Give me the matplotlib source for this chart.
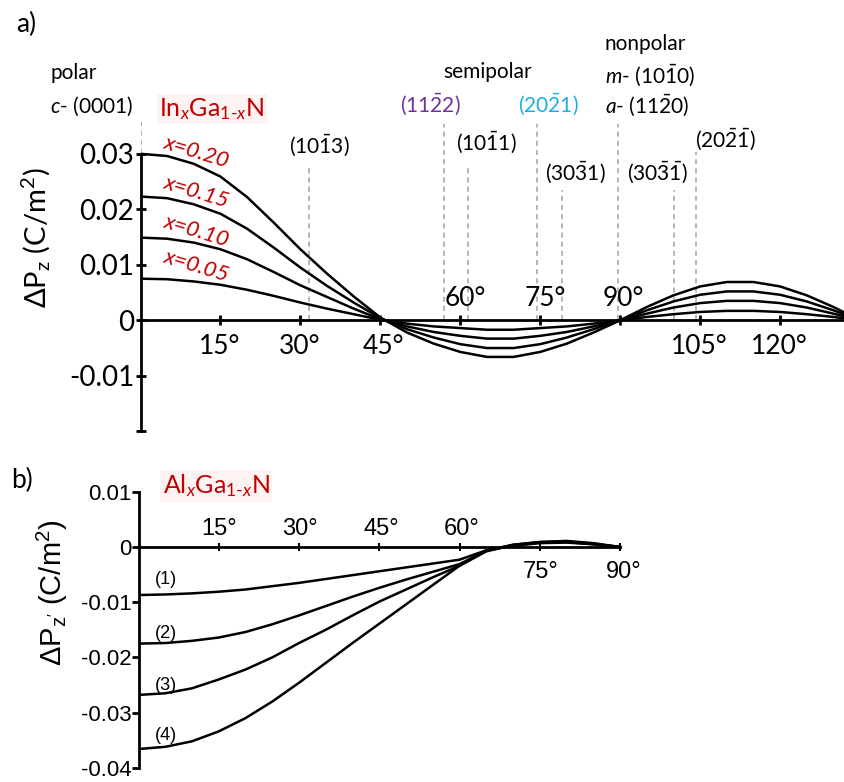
import numpy as np
import matplotlib
matplotlib.use("Agg")
import matplotlib.pyplot as plt

plt.rcParams['font.family'] = ['Lato', 'DejaVu Sans']
plt.rcParams['mathtext.fontset'] = 'custom'
plt.rcParams['mathtext.rm'] = 'Lato'
plt.rcParams['mathtext.it'] = 'Lato:italic'
plt.rcParams['mathtext.sf'] = 'Liberation Sans'

# ---- data: panel a, InGaN, angle in degrees (5 deg steps) ----
angle_a = [0, 5, 10, 15, 20, 25, 30, 35, 40, 45, 50, 55, 60, 65, 70, 75, 80, 85, 90,
           95, 100, 105, 110, 115, 120, 125, 130, 135]
ingan_x020 = [0.0300, 0.0296, 0.0282, 0.0259, 0.0222, 0.0176, 0.0128, 0.0084, 0.0043, 0.0005,
              -0.0022, -0.0042, -0.0057, -0.0066, -0.0066, -0.0057, -0.0042, -0.0022, 0.0000,
              0.0024, 0.0045, 0.0061, 0.0069, 0.0069, 0.0061, 0.0045, 0.0024, 0.0000]
ingan_x015 = [0.0223, 0.0220, 0.0209, 0.0192, 0.0165, 0.0131, 0.0095, 0.0062, 0.0032, 0.0004,
              -0.0016, -0.0031, -0.0043, -0.0050, -0.0050, -0.0043, -0.0031, -0.0016, 0.0000,
              0.0018, 0.0034, 0.0046, 0.0052, 0.0052, 0.0046, 0.0034, 0.0018, 0.0000]
ingan_x010 = [0.0149, 0.0147, 0.0140, 0.0128, 0.0110, 0.0087, 0.0063, 0.0042, 0.0021, 0.0002,
              -0.0011, -0.0021, -0.0028, -0.0033, -0.0033, -0.0028, -0.0021, -0.0011, 0.0000,
              0.0012, 0.0023, 0.0031, 0.0035, 0.0035, 0.0031, 0.0023, 0.0012, 0.0000]
ingan_x005 = [0.0075, 0.0074, 0.0070, 0.0064, 0.0055, 0.0044, 0.0032, 0.0021, 0.0011, 0.0001,
              -0.0006, -0.0011, -0.0014, -0.0017, -0.0017, -0.0014, -0.0011, -0.0006, 0.0000,
              0.0006, 0.0011, 0.0015, 0.0017, 0.0017, 0.0015, 0.0011, 0.0006, 0.0000]
ingan_labels = ['x=0.20', 'x=0.15', 'x=0.10', 'x=0.05']

# planes marked with dashed lines: angle, top of line (C/m2)
plane_angles = [0, 31.6, 57, 61.5, 74.4, 79, 89.5, 100, 104.3]
plane_tops = [0.0357, 0.028, 0.0354, 0.028, 0.0354, 0.0235, 0.0354, 0.0235, 0.0303]
plane_bottoms = [0.0300, 0, 0, 0, 0, 0, 0, 0, 0]

# ---- data: panel b, AlGaN ----
angle_b = [0, 5, 10, 15, 20, 25, 30, 35, 40, 45, 50, 55, 60, 65, 70, 75, 80, 85, 90]
algan_1 = [-0.0087, -0.0086, -0.0084, -0.0081, -0.0077, -0.0071, -0.0065, -0.0058, -0.0051, -0.0044,
           -0.0037, -0.0030, -0.0023, -0.0006, 0.0002, 0.0007, 0.0008, 0.0005, 0.0000]
algan_2 = [-0.0175, -0.0174, -0.0170, -0.0164, -0.0154, -0.0140, -0.0124, -0.0107, -0.0090, -0.0074,
           -0.0059, -0.0045, -0.0031, -0.0007, 0.0003, 0.0008, 0.0009, 0.0005, 0.0000]
algan_3 = [-0.0268, -0.0265, -0.0256, -0.0240, -0.0222, -0.0200, -0.0174, -0.0150, -0.0124, -0.0099,
           -0.0077, -0.0055, -0.0034, -0.0008, 0.0004, 0.0009, 0.0010, 0.0006, 0.0000]
algan_4 = [-0.0366, -0.0362, -0.0352, -0.0334, -0.0310, -0.0280, -0.0246, -0.0210, -0.0174, -0.0139,
           -0.0104, -0.0069, -0.0034, -0.0006, 0.0004, 0.0009, 0.0011, 0.0007, 0.0000]
algan_labels = ['(1)', '(2)', '(3)', '(4)']

W, H = 844, 782
RED = '#c00000'
fig = plt.figure(figsize=(W / 100, H / 100), dpi=100)


def place(px0, ppd, py0, ppu, xlim, ylim):
    left = px0 + xlim[0] * ppd
    right = px0 + xlim[1] * ppd
    top = py0 - ylim[1] * ppu
    bottom = py0 - ylim[0] * ppu
    return [left / W, 1 - bottom / H, (right - left) / W, (bottom - top) / H]


def ftext(px, py, s, **kw):
    kw.setdefault('ha', 'center')
    kw.setdefault('va', 'center')
    fig.text(px / W, 1 - py / H, s, **kw)


# ---------------- panel a ----------------
xa, ya = (0, 132.2), (-0.0205, 0.040)
ax = fig.add_axes(place(140.5, 5.33, 320.3, 5550, xa, ya))
ax.set_xlim(*xa)
ax.set_ylim(*ya)
for y in [ingan_x020, ingan_x015, ingan_x010, ingan_x005]:
    ax.plot(angle_a, y, color='black', lw=1.8, solid_joinstyle='round')
for a, t, b in zip(plane_angles, plane_tops, plane_bottoms):
    ax.plot([a, a], [b, t], color='#a8a8a8', lw=1.2, ls=(0, (3, 2.5)), zorder=0)

for s in ['top', 'right']:
    ax.spines[s].set_visible(False)
ax.spines['left'].set_bounds(-0.02, 0.03)
ax.spines['bottom'].set_position(('data', 0))
ax.spines['left'].set_linewidth(2)
ax.spines['bottom'].set_linewidth(2)
ax.set_yticks([0.03, 0.02, 0.01, 0, -0.01, -0.02])
ax.set_yticklabels(['0.03', '0.02', '0.01', '0', '-0.01', ''])
ax.tick_params(axis='y', direction='inout', length=7, width=2, labelsize=20, pad=1)
ax.set_xticks([15, 30, 45, 60, 75, 90, 105, 120])
ax.set_xticklabels([])
ax.tick_params(axis='x', direction='inout', length=7, width=2)
below = {15: 220, 30: 300, 45: 383, 105: 699, 120: 779}
above = {60: 465, 75: 545, 90: 623}
for d, px in below.items():
    ftext(px, 347, f'{d}°', fontsize=19)
for d, px in above.items():
    ftext(px, 298, f'{d}°', fontsize=19)
ftext(36, 238, r'$\Delta$P$_\mathrm{z}$ (C/m$^2$)', fontsize=21, rotation=90)

ftext(26, 24, 'a)', fontsize=19)
ftext(50, 73, 'polar', fontsize=15, ha='left')
ftext(50, 106, r'$\it{c}$- (0001)', fontsize=15, ha='left')
ftext(212, 109, r'In$_x$Ga$_{1\text{-}x}$N', fontsize=18, color=RED,
      bbox=dict(boxstyle='square,pad=0.1', fc='#fdf3f3', ec='none'))
ftext(319, 145, r'(10$\bar{\mathrm{1}}$3)', fontsize=15)
ftext(488, 72, 'semipolar', fontsize=15)
ftext(430, 104, r'(11$\bar{\mathrm{2}}$2)', fontsize=15, color='#7030a0')
ftext(548, 104, r'(20$\bar{\mathrm{2}}$1)', fontsize=15, color='#1aaee6')
ftext(486, 142, r'(10$\bar{\mathrm{1}}$1)', fontsize=15)
ftext(575, 172, r'(30$\bar{\mathrm{3}}$1)', fontsize=15)
ftext(605, 44, 'nonpolar', fontsize=15, ha='left')
ftext(605, 75, r'$\it{m}$- (10$\bar{\mathrm{1}}$0)', fontsize=15, ha='left')
ftext(605, 105, r'$\it{a}$- (11$\bar{\mathrm{2}}$0)', fontsize=15, ha='left')
ftext(657, 172, r'(30$\bar{\mathrm{3}}\bar{\mathrm{1}}$)', fontsize=15)
ftext(725, 139, r'(20$\bar{\mathrm{2}}\bar{\mathrm{1}}$)', fontsize=15)
for lab, py in zip(ingan_labels, [152, 192, 231, 266]):
    ftext(197, py, lab, fontsize=16, color=RED, style='italic', rotation=-17)

# ---------------- panel b ----------------
xb, yb = (0, 131.8), (-0.0412, 0.0115)
bx = fig.add_axes(place(138.5, 5.35, 547, 5520, xb, yb))
bx.set_xlim(*xb)
bx.set_ylim(*yb)
for y in [algan_1, algan_2, algan_3, algan_4]:
    bx.plot(angle_b, y, color='black', lw=1.8, solid_joinstyle='round')
for s in ['top', 'right']:
    bx.spines[s].set_visible(False)
bx.spines['left'].set_bounds(-0.04, 0.01)
bx.spines['bottom'].set_bounds(0, 90)
bx.spines['bottom'].set_position(('data', 0))
bx.spines['left'].set_linewidth(2)
bx.spines['bottom'].set_linewidth(2)
bx.set_yticks([0.01, 0, -0.01, -0.02, -0.03, -0.04])
bx.set_yticklabels(['0.01', '0', '-0.01', '-0.02', '-0.03', '-0.04'],
                   family='Liberation Sans')
bx.tick_params(axis='y', direction='out', length=5, width=2, labelsize=16, pad=0)
bx.set_xticks([15, 30, 45, 60, 75, 90])
bx.set_xticklabels([])
bx.tick_params(axis='x', direction='inout', length=6, width=1.5)
for d, px in {15: 219, 30: 300, 45: 381, 60: 462}.items():
    ftext(px, 529, f'{d}°', fontsize=17, family='Liberation Sans')
for d, px in {75: 541, 90: 624}.items():
    ftext(px, 572, f'{d}°', fontsize=17, family='Liberation Sans')
ftext(52, 593, r"$\mathsf{\Delta P_{z'}\ (C/m^2)}$", fontsize=21, rotation=90)
for lab, py in zip(algan_labels, [580, 633, 686, 735]):
    ftext(166, py, lab, fontsize=13, family='Liberation Sans')
ftext(22, 480, 'b)', fontsize=19)
ftext(216, 486, r'Al$_x$Ga$_{1\text{-}x}$N', fontsize=18, color=RED,
      bbox=dict(boxstyle='square,pad=0.1', fc='#fdf3f3', ec='none'))

fig.savefig('out.png', dpi=100)
